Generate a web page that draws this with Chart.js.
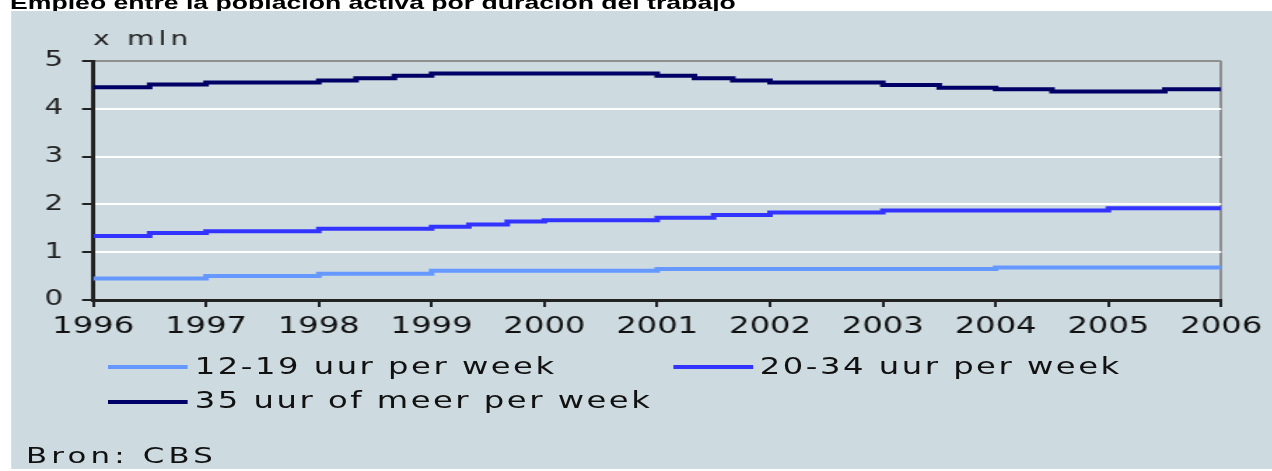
<!DOCTYPE html>
<html>
<head>
<meta charset="utf-8">
<title>Empleo entre la población activa por duración del trabajo</title>
<script src="https://cdn.jsdelivr.net/npm/chart.js@4.4.1/dist/chart.umd.min.js"></script>
<style>
  html, body { margin: 0; padding: 0; background: #fff; width: 1272px; height: 471px; overflow: hidden; }
  /* the reference is a bitmap stretched sideways, so the whole page is drawn narrow and stretched */
  #page { position: absolute; left: 0; top: 0; width: 909px; height: 471px; transform: scaleX(1.4); transform-origin: 0 0; }
  #title { position: absolute; left: 7.2px; top: -6.6px; font: bold 19px/19px "Liberation Sans", Arial, sans-serif; color: #000; white-space: nowrap; }
  #panel { position: absolute; left: 7.86px; top: 11px; width: 901px; height: 458px; background: #cddbe1; }
  #chartBox { position: absolute; left: 0; top: 0; width: 901px; height: 458px; }
  .leg { position: absolute; height: 23px; font: 23px/23px "DejaVu Sans", sans-serif; letter-spacing: 1.8px; color: #111; white-space: nowrap; }
  .leg i { position: absolute; left: 0; top: 10.5px; width: 57px; height: 4px; }
  .leg span { position: absolute; left: 62px; top: 0; }
  #source { position: absolute; left: 10.7px; top: 434.4px; font: 22px/22px "DejaVu Sans", sans-serif; letter-spacing: 3px; color: #111; white-space: nowrap; }
</style>
</head>
<body>
<div id="page">
  <div id="title">Empleo entre la población activa por duración del trabajo</div>
  <div id="panel">
    <div id="chartBox"><canvas id="chart"></canvas></div>
    <div id="legend"></div>
    <div id="source">Bron: CBS</div>
  </div>
</div>
<script>
// tick labels
const years = [1996, 1997, 1998, 1999, 2000, 2001, 2002, 2003, 2004, 2005, 2006];
const yTicks = [0, 1, 2, 3, 4, 5];
const unitText = 'x mln';

const seriesLabels = ['12-19 uur per week', '20-34 uur per week', '35 uur of meer per week'];
const seriesColors = ['#6699ff', '#3333ff', '#000066'];

// step lines: year where a new level starts, and that level (x mln)
const steps1219 = [1996, 1997, 1998, 1999, 2001, 2004, 2006];
const values1219 = [0.45, 0.50, 0.55, 0.61, 0.65, 0.68, 0.68];

const steps2034 = [1996, 1996.5, 1997, 1998, 1999, 1999.33, 1999.67, 2000, 2001, 2001.5, 2002, 2003, 2005, 2006];
const values2034 = [1.34, 1.40, 1.44, 1.49, 1.53, 1.58, 1.64, 1.67, 1.72, 1.78, 1.83, 1.87, 1.92, 1.92];

const steps35 = [1996, 1996.5, 1997, 1998, 1998.33, 1998.67, 1999, 2001, 2001.33, 2001.67, 2002, 2003, 2003.5, 2004, 2004.5, 2005.5, 2006];
const values35 = [4.45, 4.51, 4.55, 4.59, 4.64, 4.69, 4.74, 4.69, 4.64, 4.59, 4.55, 4.50, 4.44, 4.41, 4.36, 4.41, 4.41];

const toPoints = (xs, ys) => xs.map((x, i) => ({ x: x, y: ys[i] }));
const seriesData = [toPoints(steps1219, values1219), toPoints(steps2034, values2034), toPoints(steps35, values35)];

// "x mln" above the value axis
const unitLabel = {
  id: 'unitLabel',
  afterDraw(chart) {
    const { ctx, chartArea } = chart;
    ctx.save();
    ctx.font = '20px "DejaVu Sans"';
    ctx.letterSpacing = '3px';
    ctx.fillStyle = '#222';
    ctx.textBaseline = 'alphabetic';
    ctx.textAlign = 'left';
    ctx.fillText(unitText, chartArea.left, chartArea.top - 16);
    ctx.restore();
  }
};

const chart = new Chart(document.getElementById('chart'), {
  type: 'line',
  data: {
    datasets: seriesLabels.map((label, i) => ({
      label: label,
      data: seriesData[i],
      borderColor: seriesColors[i],
      backgroundColor: seriesColors[i],
      borderWidth: 4,
      pointRadius: 0,
      stepped: true,
      fill: false
    }))
  },
  options: {
    responsive: true,
    maintainAspectRatio: false,
    animation: false,
    layout: { padding: { top: 50, right: 36.7, bottom: 109, left: 0 } },
    plugins: {
      legend: { display: false },
      tooltip: { enabled: false },
      title: { display: false }
    },
    scales: {
      x: {
        type: 'linear',
        min: 1996,
        max: 2006,
        afterFit: s => { s.height = 60; },
        afterBuildTicks: s => { s.ticks = years.map(v => ({ value: v })); },
        border: { color: '#222', width: 3 },
        grid: {
          color: c => (c.tick && c.tick.value === 2006 ? '#8f8f8f' : 'rgba(0,0,0,0)'),
          lineWidth: 2,
          tickLength: 7,
          tickColor: '#222',
          tickWidth: 2
        },
        ticks: {
          padding: 6,
          color: '#111',
          font: { family: 'DejaVu Sans', size: 23 },
          maxRotation: 0,
          autoSkip: false,
          callback: v => String(v)
        }
      },
      y: {
        min: 0,
        max: 5,
        afterFit: s => { s.width = 58.6; },
        afterBuildTicks: s => { s.ticks = yTicks.map(v => ({ value: v })); },
        border: { color: '#222', width: 3 },
        grid: {
          color: c => (c.tick && c.tick.value === 5 ? '#8f8f8f' : '#ffffff'),
          lineWidth: 2,
          tickLength: 8,
          tickColor: '#222',
          tickWidth: 2
        },
        ticks: {
          padding: 13.6,
          color: '#222',
          font: { family: 'DejaVu Sans', size: 21 },
          callback: v => String(v)
        }
      }
    }
  },
  plugins: [unitLabel]
});

// legend in two rows, left aligned like the original
const legendSlots = [[69.3, 343.5], [472.9, 343.5], [69.3, 378.2]];
const legendBox = document.getElementById('legend');
chart.data.datasets.forEach((ds, i) => {
  const item = document.createElement('div');
  item.className = 'leg';
  item.style.left = legendSlots[i][0] + 'px';
  item.style.top = legendSlots[i][1] + 'px';
  const swatch = document.createElement('i');
  swatch.style.background = ds.borderColor;
  const text = document.createElement('span');
  text.textContent = ds.label;
  item.appendChild(swatch);
  item.appendChild(text);
  legendBox.appendChild(item);
});
</script>
</body>
</html>
